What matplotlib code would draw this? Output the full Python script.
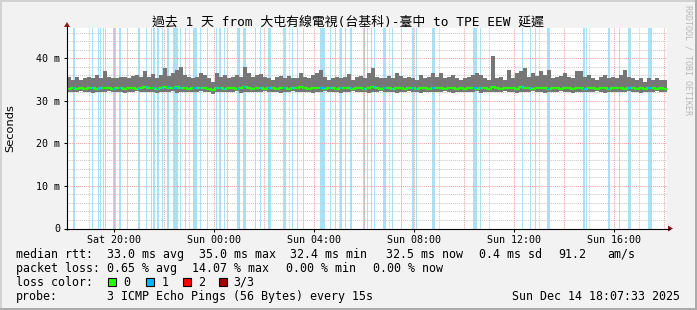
import matplotlib
matplotlib.use('Agg')
import matplotlib.pyplot as plt
import numpy as np
from matplotlib.patches import Rectangle, Polygon

# ---------------- data ----------------
title = "過去 1 天 from 大屯有線電視(台基科)-臺中 to TPE EEW 延遲"
start_hour = 18 + 7/60 + 33/3600          # Sat 18:07:33 (hours since Sat 00:00)
span_hours = 24.0
step_minutes = 9.6                         # one value per block

smoke_top = [35.7, 34.9, 35.7, 34.9, 35.3, 35.7, 35.3, 36.1, 35.3, 36.9,
             35.7, 35.3, 35.3, 35.7, 35.7, 35.3, 35.9, 36.1, 35.7, 37.0,
             35.7, 36.2, 35.3, 36.1, 37.6, 35.9, 36.5, 37.3, 38.0, 36.1,
             35.7, 35.4, 35.7, 36.5, 36.1, 35.3, 34.5, 36.5, 35.7, 36.1,
             35.3, 35.7, 36.1, 35.7, 38.0, 36.5, 35.7, 36.1, 36.2, 35.7,
             35.3, 34.9, 35.7, 35.9, 35.3, 35.9, 35.3, 35.3, 36.5, 35.7,
             35.4, 36.1, 36.5, 37.3, 35.7, 34.9, 35.4, 35.7, 35.3, 35.7,
             36.2, 34.9, 35.7, 35.9, 35.3, 36.5, 37.6, 35.7, 35.3, 35.3,
             35.9, 35.3, 36.5, 35.9, 35.3, 35.7, 35.4, 34.9, 36.1, 35.3,
             35.7, 36.5, 35.7, 36.5, 35.3, 35.7, 36.1, 35.3, 34.9, 35.3,
             35.7, 36.1, 36.5, 36.1, 35.3, 34.9, 40.6, 35.3, 35.7, 34.9,
             37.2, 35.3, 36.5, 36.9, 37.6, 35.7, 36.5, 35.9, 37.0, 36.1,
             37.2, 35.3, 35.7, 35.9, 36.5, 35.7, 35.3, 36.9, 36.9, 35.7,
             36.1, 35.3, 34.9, 35.7, 36.1, 35.3, 35.7, 35.3, 36.1, 37.2,
             35.7, 35.3, 34.9, 35.3, 34.5, 35.3, 34.9, 35.3, 34.9, 35.0]

smoke_bottom = [32.1, 32.0, 32.1, 32.2, 32.0, 32.1, 31.9, 32.1, 32.0, 32.1,
                32.2, 32.0, 32.1, 32.1, 31.9, 32.0, 32.1, 32.2, 32.0, 32.1,
                32.1, 32.0, 31.8, 32.1, 32.0, 32.1, 32.2, 31.9, 32.0, 32.1,
                32.1, 32.0, 32.1, 32.2, 32.0, 32.1, 31.6, 32.0, 32.1, 32.1,
                32.0, 32.1, 32.2, 31.9, 32.1, 32.0, 32.1, 32.1, 32.0, 32.2,
                32.1, 32.0, 32.1, 31.9, 32.1, 32.0, 32.2, 32.1, 32.0, 32.1,
                32.1, 31.8, 32.0, 32.1, 32.2, 32.0, 32.1, 32.1, 31.9, 32.0,
                32.1, 32.2, 32.0, 32.1, 32.1, 31.9, 32.0, 32.1, 32.2, 32.0,
                32.1, 32.1, 31.9, 32.0, 32.1, 32.2, 32.0, 32.1, 31.8, 32.1,
                32.0, 32.1, 32.1, 32.0, 32.2, 32.1, 31.9, 32.0, 32.1, 32.1,
                32.0, 32.1, 32.2, 31.9, 32.1, 32.0, 32.1, 32.1, 32.0, 32.2,
                32.1, 32.0, 31.9, 32.1, 32.0, 32.1, 32.2, 32.0, 32.1, 31.8,
                32.1, 32.0, 32.1, 32.2, 32.0, 32.1, 31.9, 32.1, 32.0, 32.1,
                32.1, 32.0, 32.2, 32.1, 31.9, 32.0, 32.1, 32.1, 32.0, 32.1,
                32.2, 32.0, 32.1, 31.9, 32.1, 32.0, 32.1, 32.2, 32.0, 32.1]

median_rtt = [32.8, 32.9, 32.7, 33.0, 32.8, 32.9, 33.1, 32.8, 32.9, 33.0,
              32.9, 32.8, 33.0, 32.9, 32.8, 33.1, 32.9, 32.8, 33.0, 33.2,
              32.9, 33.0, 32.8, 32.9, 33.3, 33.0, 32.9, 33.2, 33.1, 32.9,
              32.8, 33.0, 32.9, 33.1, 32.9, 32.8, 32.6, 33.0, 32.9, 32.8,
              33.0, 32.9, 32.8, 33.1, 33.2, 32.9, 32.8, 33.0, 32.9, 32.8,
              32.9, 33.0, 32.8, 32.9, 33.1, 32.8, 32.9, 33.0, 33.2, 32.9,
              32.8, 33.0, 32.9, 33.1, 32.8, 32.9, 33.0, 32.8, 32.9, 33.1,
              32.9, 32.8, 33.0, 32.9, 32.8, 33.1, 33.2, 32.9, 32.8, 33.0,
              32.9, 32.8, 33.1, 32.9, 32.8, 33.0, 32.9, 32.8, 33.0, 32.9,
              32.8, 33.0, 32.9, 33.1, 32.8, 32.9, 33.0, 32.8, 32.9, 32.8,
              32.9, 33.0, 32.8, 32.9, 33.0, 32.8, 33.2, 32.9, 32.8, 33.0,
              33.1, 32.9, 32.8, 33.2, 33.0, 32.9, 32.8, 33.0, 33.1, 32.9,
              32.8, 32.9, 33.0, 32.8, 32.9, 33.1, 32.8, 33.0, 32.9, 32.8,
              32.9, 33.0, 32.8, 32.9, 33.0, 32.8, 32.9, 33.1, 32.9, 32.8,
              32.9, 33.0, 32.8, 32.9, 32.8, 33.0, 32.9, 32.8, 32.9, 32.8]

# loss (1 of 3 pings) periods: start time, duration in minutes
loss_starts = ["Sat 18:22", "Sat 19:07", "Sat 19:21", "Sat 19:27", "Sat 19:34", "Sat 19:39",
               "Sat 19:59", "Sat 20:13", "Sat 20:31", "Sat 20:57", "Sat 21:17", "Sat 21:28",
               "Sat 21:35", "Sat 21:43", "Sat 21:56", "Sat 22:07", "Sat 22:23", "Sat 22:39",
               "Sat 22:51", "Sat 23:11", "Sat 23:27", "Sat 23:43", "Sun 00:05", "Sun 00:13",
               "Sun 00:24", "Sun 00:31", "Sun 00:55", "Sun 01:11", "Sun 01:39", "Sun 01:51",
               "Sun 02:11", "Sun 02:46", "Sun 03:07", "Sun 03:19", "Sun 03:34", "Sun 04:15",
               "Sun 04:39", "Sun 04:51", "Sun 05:03", "Sun 05:15", "Sun 05:27", "Sun 05:59",
               "Sun 06:07", "Sun 06:16", "Sun 06:24", "Sun 06:47", "Sun 07:07", "Sun 07:28",
               "Sun 07:55", "Sun 08:04", "Sun 08:43", "Sun 10:23", "Sun 10:39", "Sun 12:19",
               "Sun 12:39", "Sun 12:51", "Sun 13:20", "Sun 14:47", "Sun 14:52", "Sun 15:47",
               "Sun 16:12", "Sun 16:35", "Sun 17:23"]
loss_minutes = [4, 3, 3, 3, 3, 3,
                5, 3, 3, 6, 3, 3,
                3, 6, 3, 5, 11, 3,
                3, 8, 3, 3, 3, 3,
                3, 3, 7, 7, 3, 3,
                5, 7, 3, 4, 3, 12,
                3, 3, 5, 3, 5, 3,
                3, 3, 3, 6, 3, 3,
                5, 3, 7, 8, 3, 3,
                3, 3, 6, 3, 3, 4,
                3, 5, 8]

x_tick_hours = [20, 24, 28, 32, 36, 40]
x_tick_labels = ["Sat 20:00", "Sun 00:00", "Sun 04:00", "Sun 08:00", "Sun 12:00", "Sun 16:00"]
y_ticks = [0, 10, 20, 30, 40]
y_tick_labels = ["0", "10 m", "20 m", "30 m", "40 m"]

legend_median = ["median rtt:", "33.0 ms avg", "35.0 ms max", "32.4 ms min",
                 "32.5 ms now", "0.4 ms sd", "91.2", "am/s"]
legend_loss = ["packet loss:", "0.65 % avg", "14.07 % max", "0.00 % min", "0.00 % now"]
loss_color_labels = ["0", "1", "2", "3/3"]
loss_colors = ["#26ff00", "#00b8ff", "#ff0000", "#a00000"]
probe_text = "3 ICMP Echo Pings (56 Bytes) every 15s"
date_text = "Sun Dec 14 18:07:33 2025"
watermark = "RRDTOOL / TOBI OETIKER"


def to_hours(s):
    day, hm = s.split()
    h, m = hm.split(":")
    return (0 if day == "Sat" else 24) + int(h) + int(m) / 60


# ---------------- figure ----------------
W, H = 697, 310
fig = plt.figure(figsize=(W / 100, H / 100), dpi=100)
fig.patch.set_facecolor("#f2f2f2")

L, R, T, B = 67, 667, 28, 228.5
ax = fig.add_axes([L / W, 1 - B / H, (R - L) / W, (B - T) / H])
ax.set_facecolor("white")
x0, x1 = start_hour, start_hour + span_hours
ax.set_xlim(x0, x1)
ax.set_ylim(0, 47.1)
for s in ax.spines.values():
    s.set_visible(False)

# loss bars
LOSS_BG = "#a8e2f8"
for s, mins in zip(loss_starts, loss_minutes):
    t = to_hours(s)
    ax.axvspan(t, t + mins / 60, color=LOSS_BG, lw=0, zorder=1)

# grid
dot = (0, (1, 1))
for h in range(19, 43):
    c = "#f0a0a0" if h % 2 == 0 else "#c8c8c8"
    ax.axvline(h, color=c, lw=0.75, ls=dot, zorder=2)
for yv in range(2, 47, 2):
    c = "#f0a0a0" if yv % 10 == 0 else "#c8c8c8"
    ax.axhline(yv, color=c, lw=0.75, ls=dot, zorder=2)

# smoke + median
n = len(smoke_top)
edges = x0 + np.arange(n + 1) * step_minutes / 60
top_e = np.append(smoke_top, smoke_top[-1])
bot_e = np.append(smoke_bottom, smoke_bottom[-1])
med_e = np.append(median_rtt, median_rtt[-1])
ax.fill_between(edges, bot_e, top_e, step="post", color="#767676", lw=0, zorder=3)
ax.step(edges, med_e, where="post", color=loss_colors[0], lw=1.6, zorder=4)
for s, mins in zip(loss_starts, loss_minutes):
    t = to_hours(s)
    i = int((t - x0) / (step_minutes / 60))
    i = min(max(i, 0), n - 1)
    ax.hlines(median_rtt[i], t, t + mins / 60, color=loss_colors[1], lw=1.6, zorder=5)

# ticks
ax.set_xticks(x_tick_hours)
ax.set_xticklabels(x_tick_labels, family="DejaVu Sans Mono", fontsize=7.2)
ax.set_yticks(y_ticks)
ax.set_yticklabels(y_tick_labels, family="DejaVu Sans Mono", fontsize=7.2)
ax.tick_params(axis="both", length=2, width=0.75, color="black", pad=3)

# ---------------- overlay in pixel coordinates ----------------
ov = fig.add_axes([0, 0, 1, 1])
ov.set_xlim(0, W)
ov.set_ylim(H, 0)
ov.axis("off")
ov.patch.set_alpha(0)

# 3D border
ov.add_patch(Rectangle((0, 0), W, 2, color="#d2d2d2", lw=0))
ov.add_patch(Rectangle((0, 0), 2, H, color="#d2d2d2", lw=0))
ov.add_patch(Rectangle((0, H - 2.5), W, 2.5, color="#ababab", lw=0))
ov.add_patch(Rectangle((W - 2.5, 0), 2.5, H, color="#ababab", lw=0))

# axes lines with arrows
ov.plot([L, L], [B + 1, T - 2], color="black", lw=0.8, solid_capstyle="butt")
ov.plot([L - 2, R + 3], [B, B], color="black", lw=0.8, solid_capstyle="butt")
ARROW = "#8b1a1a"
ov.add_patch(Polygon([[L - 3, T - 1], [L + 3, T - 1], [L, T - 6]], closed=True, color=ARROW, lw=0))
ov.add_patch(Polygon([[R + 1, B - 3], [R + 1, B + 3], [R + 6, B]], closed=True, color=ARROW, lw=0))

mono = "DejaVu Sans Mono"
fs = 8.4
ov.text(348, 26, title, family=[mono, "Noto Sans CJK TC"], fontsize=9.3,
        ha="center", va="baseline", color="black")
ov.text(10.5, 128, "Seconds", family="DejaVu Sans", fontsize=8.2, rotation=90,
        ha="center", va="center", color="black")
ov.text(688, 5, watermark, family=mono, fontsize=6.0, rotation=-90,
        ha="center", va="top", color="#b8b8b8")

med_x = [16, 107, 199, 290, 386, 479, 558, 607]
for x, s in zip(med_x, legend_median):
    ov.text(x, 257.7, s, family=mono, fontsize=fs, ha="left", va="baseline")
loss_x = [16, 107, 192, 286, 373]
for x, s in zip(loss_x, legend_loss):
    ov.text(x, 272, s, family=mono, fontsize=fs, ha="left", va="baseline")

ov.text(16, 285.7, "loss color:", family=mono, fontsize=fs, ha="left", va="baseline")
box_x = [108, 146, 182.5, 219]
lab_x = [123, 161.5, 198.5, 233]
for bx, lx, c, s in zip(box_x, lab_x, loss_colors, loss_color_labels):
    ov.add_patch(Rectangle((bx, 278), 8, 8, facecolor=c, edgecolor="black", lw=0.8))
    ov.text(lx, 285.7, s, family=mono, fontsize=fs, ha="left", va="baseline")

ov.text(16, 299.8, "probe:", family=mono, fontsize=fs, ha="left", va="baseline")
ov.text(107, 299.8, probe_text, family=mono, fontsize=fs, ha="left", va="baseline")
ov.text(680, 299.8, date_text, family=mono, fontsize=fs, ha="right", va="baseline")

fig.savefig("out.png", dpi=100, facecolor=fig.get_facecolor())
